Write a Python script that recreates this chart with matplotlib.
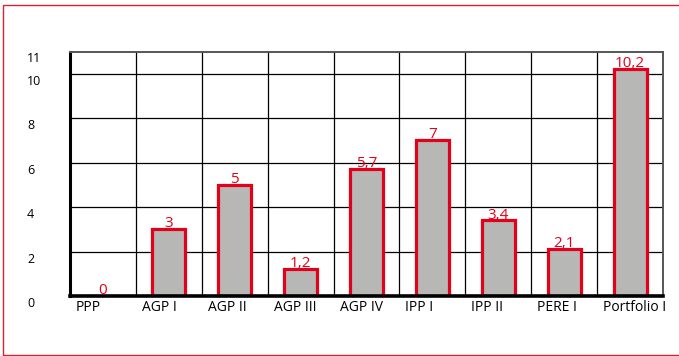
import matplotlib.pyplot as plt
import matplotlib.transforms as mtransforms
from matplotlib.patches import Rectangle

plt.rcParams['font.family'] = ['Open Sans', 'DejaVu Sans']

categories = ['PPP', 'AGP I', 'AGP II', 'AGP III', 'AGP IV', 'IPP I', 'IPP II', 'PERE I', 'Portfolio I']
values = [0, 3, 5, 1.2, 5.7, 7, 3.4, 2.1, 10.2]
value_labels = ['0', '3', '5', '1,2', '5,7', '7', '3,4', '2,1', '10,2']
yticks = [0, 2, 4, 6, 8, 10, 11]

red = '#e2001a'
grey = '#b7b7b5'

fig = plt.figure(figsize=(6.79, 3.56), dpi=100)
W, H = 679, 356
ax = fig.add_axes([70 / W, (H - 296) / H, (663 - 70) / W, (296 - 51.5) / H])

x = list(range(len(categories)))
ax.bar(x, values, width=0.5, color=grey, edgecolor=red, linewidth=2.3, zorder=3)

for xi, v, lab in zip(x, values, value_labels):
    ax.annotate(lab, (xi, v), xytext=(0, -1.5), textcoords='offset points',
                ha='center', va='bottom', color=red, fontsize=11)

ax.set_xlim(-0.5, len(categories) - 0.5)
ax.set_ylim(0, 11)

# grid
for b in range(1, len(categories)):
    ax.axvline(b - 0.5, color='black', linewidth=0.9, zorder=1)
for t in yticks[1:-1]:
    ax.axhline(t, color='black', linewidth=0.9, zorder=1)

for s in ['top', 'right']:
    ax.spines[s].set_color('#555555')
    ax.spines[s].set_linewidth(1.4)
ax.spines['left'].set_linewidth(2.2)
ax.spines['bottom'].set_linewidth(2.6)
for s in ax.spines.values():
    s.set_zorder(4)

ax.set_yticks(yticks)
ax.set_yticklabels([str(t) for t in yticks], fontsize=9, ha='left')
ax.tick_params(axis='y', length=0, pad=43 * 72 / 100)
down = mtransforms.ScaledTranslation(0, -6 / 100, fig.dpi_scale_trans)
for lbl in ax.get_yticklabels():
    lbl.set_transform(lbl.get_transform() + down)

# x labels sit left-aligned in each cell
ax.set_xticks([xi - 0.5 for xi in x])
ax.set_xticklabels(categories, fontsize=10, ha='left')
ax.tick_params(axis='x', length=0, pad=3)
right = mtransforms.ScaledTranslation(6 / 100, 0, fig.dpi_scale_trans)
for lbl in ax.get_xticklabels():
    lbl.set_transform(lbl.get_transform() + right)

fig.patches.append(Rectangle((3 / W, 1 / H), 1.1, (355 - 5) / H, transform=fig.transFigure,
                             fill=False, edgecolor='#d8232f', linewidth=1.0))

fig.savefig('out.png', dpi=100)
